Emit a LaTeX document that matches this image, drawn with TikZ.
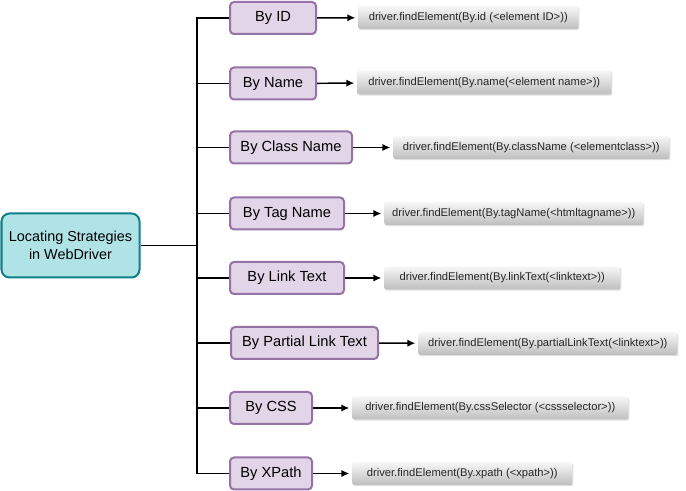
\documentclass[tikz,border=0pt]{standalone}
\usepackage{fontspec}
\setmainfont{Liberation Sans}
\usetikzlibrary{shadows,arrows.meta}

\definecolor{rootfill}{HTML}{B0E3E6}
\definecolor{rootline}{HTML}{0E8088}
\definecolor{byfill}{HTML}{E1D5E7}
\definecolor{byline}{HTML}{9673A6}
\definecolor{codetop}{HTML}{F7F7F7}
\definecolor{codebot}{HTML}{BEBEBE}

\newcommand{\px}{0.75pt}

\tikzset{
  rootbox/.style={draw=rootline, line width=1.5pt, fill=rootfill, rounded corners=6pt,
    align=center, font=\fontsize{10.8}{14}\selectfont, inner sep=0pt},
  bybox/.style={draw=byline, line width=1.5pt, fill=byfill, rounded corners=3pt,
    anchor=west, font=\fontsize{11}{13}\selectfont, inner sep=0pt},
  codebox/.style={top color=codetop, bottom color=codebot, rounded corners=1.5pt,
    anchor=west, font=\fontsize{8.4}{10}\selectfont, text=black!85, inner sep=0pt,
    drop shadow={opacity=0.25, shadow xshift=0.8pt, shadow yshift=-0.8pt}},
  branch/.style={line width=1.1pt},
  calls/.style={-{Latex[length=6pt,width=5.5pt]}, line width=1.1pt, shorten >=2pt}
}

\begin{document}
\begin{tikzpicture}[x=\px, y=-\px]
\useasboundingbox (0,0) rectangle (686,491);

\node [rootbox, minimum width=138*\px, minimum height=64*\px] (root) at (70.5,245.5)
  {Locating Strategies\\in WebDriver};

\coordinate (t) at (197,0);

% the eight strategies
\node [bybox, minimum width=86*\px, minimum height=32*\px] (byid) at (229,18) {By ID};
\node [bybox, minimum width=86*\px, minimum height=32*\px] (byname) at (229,83.5) {By Name};
\node [bybox, minimum width=122*\px, minimum height=32*\px] (byclass) at (229,147.5) {By Class Name};
\node [bybox, minimum width=114*\px, minimum height=32*\px] (bytag) at (229,213.5) {By Tag Name};
\node [bybox, minimum width=114*\px, minimum height=32*\px] (bylink) at (229,278) {By Link Text};
\node [bybox, minimum width=147*\px, minimum height=32*\px] (bypartial) at (230,343) {By Partial Link Text};
\node [bybox, minimum width=82*\px, minimum height=32*\px] (bycss) at (229,408) {By CSS};
\node [bybox, minimum width=82*\px, minimum height=32*\px] (byxpath) at (229,473.5) {By XPath};

% the calls
\node [codebox, minimum width=220*\px, minimum height=23*\px] (cid) at (358,17.5) {driver.findElement(By.id (<element ID>))};
\node [codebox, minimum width=254*\px, minimum height=24*\px] (cname) at (357,82.5) {driver.findElement(By.name(<element name>))};
\node [codebox, minimum width=276*\px, minimum height=23*\px] (cclass) at (393,147.5) {driver.findElement(By.className (<elementclass>))};
\node [codebox, minimum width=259*\px, minimum height=23*\px] (ctag) at (384,213.5) {driver.findElement(By.tagName(<htmltagname>))};
\node [codebox, minimum width=236*\px, minimum height=23*\px] (clink) at (384,278) {driver.findElement(By.linkText(<linktext>))};
\node [codebox, minimum width=259*\px, minimum height=23*\px] (cpartial) at (418,343.5) {driver.findElement(By.partialLinkText(<linktext>))};
\node [codebox, minimum width=276*\px, minimum height=23*\px] (ccss) at (352,408) {driver.findElement(By.cssSelector (<cssselector>))};
\node [codebox, minimum width=220*\px, minimum height=23*\px] (cxpath) at (352,473.5) {driver.findElement(By.xpath (<xpath>))};

% tree
\draw [branch] (root.east) -- (root.east -| t);
\draw [branch] (byid.west) -- (byid.west -| t) -- (byxpath.west -| t) -- (byxpath.west);
\draw [branch] (byname.west -| t) -- (byname.west);
\draw [branch] (byclass.west -| t) -- (byclass.west);
\draw [branch] (bytag.west -| t) -- (bytag.west);
\draw [branch] (bylink.west -| t) -- (bylink.west);
\draw [branch] (bypartial.west -| t) -- (bypartial.west);
\draw [branch] (bycss.west -| t) -- (bycss.west);

% arrows
\draw [calls] (byid) -- (cid);
\draw [calls] (byname) -- (cname);
\draw [calls] (byclass) -- (cclass);
\draw [calls] (bytag) -- (ctag);
\draw [calls] (bylink) -- (clink);
\draw [calls] (bypartial) -- (cpartial);
\draw [calls] (bycss) -- (ccss);
\draw [calls] (byxpath) -- (cxpath);
\end{tikzpicture}
\end{document}
